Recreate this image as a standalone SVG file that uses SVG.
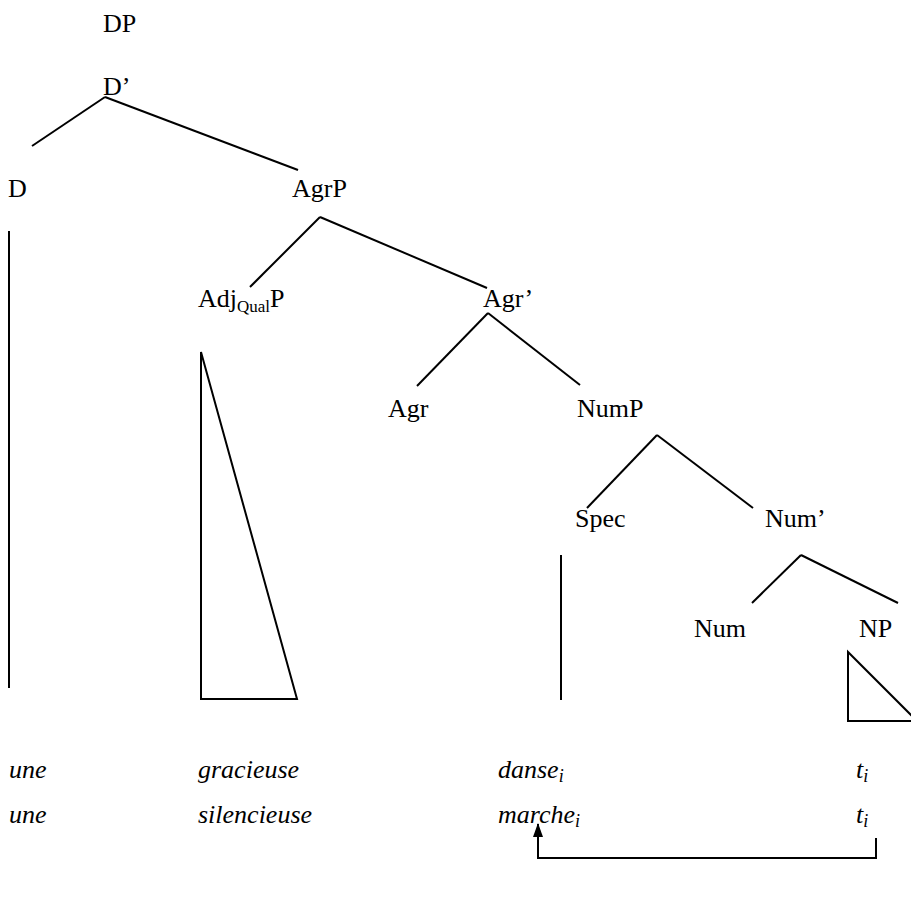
<svg xmlns="http://www.w3.org/2000/svg" width="911" height="920" viewBox="0 0 911 920">
<defs>
<style>
.lab{font-family:"Liberation Serif","Times New Roman",serif;font-size:26px;fill:#000}
.sub{font-size:17px}
.w{font-family:"Liberation Serif","Times New Roman",serif;font-style:italic;font-size:26px;fill:#000}
.ws{font-size:18px}
.ln{stroke:#000;stroke-width:2;fill:none}
</style>
<marker id="ah" viewBox="0 0 14 10" refX="13" refY="5" markerWidth="14" markerHeight="10" markerUnits="userSpaceOnUse" orient="auto">
<path d="M0,0 L14,5 L0,10 Z" fill="#000"/>
</marker>
</defs>
<rect width="911" height="920" fill="#fff"/>
<g id="n-DP"><text class="lab" x="103" y="32">DP</text></g>
<g id="n-Dbar"><text class="lab" x="103" y="95">D’</text></g>
<g id="n-D"><text class="lab" x="8" y="197">D</text></g>
<g id="n-AgrP"><text class="lab" x="292" y="197">AgrP</text></g>
<g id="n-AdjQualP"><text class="lab" x="198" y="307">Adj<tspan class="sub" dy="5">Qual</tspan><tspan dy="-5">P</tspan></text></g>
<g id="n-Agrbar"><text class="lab" x="483" y="307">Agr’</text></g>
<g id="n-Agr"><text class="lab" x="388" y="417">Agr</text></g>
<g id="n-NumP"><text class="lab" x="577" y="417">NumP</text></g>
<g id="n-Spec"><text class="lab" x="575" y="527">Spec</text></g>
<g id="n-Numbar"><text class="lab" x="765" y="527">Num’</text></g>
<g id="n-Num"><text class="lab" x="694" y="637">Num</text></g>
<g id="n-NP"><text class="lab" x="859" y="637">NP</text></g>
<g id="words">
<text class="w" x="9" y="778">une</text>
<text class="w" x="198" y="778">gracieuse</text>
<text class="w" x="498" y="778">danse<tspan class="ws" dy="4">i</tspan></text>
<text class="w" x="856" y="778">t<tspan class="ws" dy="4">i</tspan></text>
<text class="w" x="9" y="823">une</text>
<text class="w" x="198" y="823">silencieuse</text>
<text class="w" x="498" y="823">marche<tspan class="ws" dy="4">i</tspan></text>
<text class="w" x="856" y="823">t<tspan class="ws" dy="4">i</tspan></text>
</g>
<g id="connectors">
<line class="ln" x1="105" y1="97" x2="32" y2="146"/>
<line class="ln" x1="105" y1="97" x2="298" y2="170"/>
<line class="ln" x1="320" y1="217" x2="250" y2="287"/>
<line class="ln" x1="320" y1="217" x2="487" y2="288"/>
<line class="ln" x1="488" y1="313" x2="417" y2="386"/>
<line class="ln" x1="488" y1="313" x2="580" y2="385"/>
<line class="ln" x1="657" y1="435" x2="587" y2="508"/>
<line class="ln" x1="657" y1="435" x2="753" y2="508"/>
<line class="ln" x1="801" y1="555" x2="752" y2="603"/>
<line class="ln" x1="801" y1="555" x2="898" y2="603"/>
<line class="ln" x1="9" y1="231" x2="9" y2="688"/>
<polygon class="ln" points="201,352 201,699 297,699"/>
<line class="ln" x1="561" y1="555" x2="561" y2="700"/>
<polygon class="ln" points="848,652 848,721 917,721"/>
<polyline class="ln" points="876,838 876,858 538,858 538,824" marker-end="url(#ah)"/>
</g>
</svg>
